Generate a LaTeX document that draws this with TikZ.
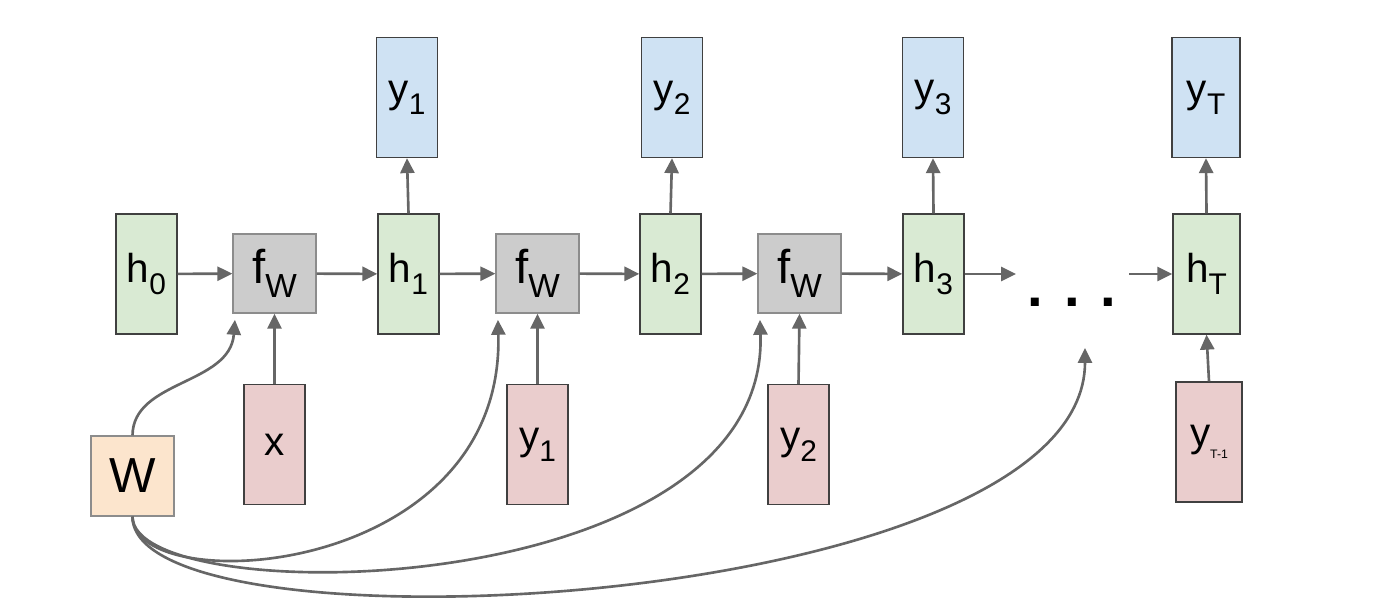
\documentclass[tikz,border=0pt]{standalone}
\usepackage{fontspec}
\setmainfont{Liberation Sans}
\usetikzlibrary{arrows.meta}

\definecolor{hidgreen}{HTML}{D9EAD3}
\definecolor{outblue}{HTML}{CFE2F3}
\definecolor{inred}{HTML}{EACDCD}
\definecolor{fgray}{HTML}{CCCCCC}
\definecolor{wpeach}{HTML}{FCE5CD}
\definecolor{linegray}{HTML}{666666}

\newcommand\lowsub[2][17]{\raisebox{-0.3em}{\fontsize{#1}{#1}\selectfont #2}}

\tikzset{
    cell/.style={draw=black!75, line width=0.8pt, minimum width=1.22cm, minimum height=2.4cm,
        inner sep=0pt, font=\fontsize{23}{23}\selectfont},
    hid/.style={cell, fill=hidgreen},
    outcell/.style={cell, fill=outblue},
    incell/.style={cell, fill=inred},
    fnode/.style={draw=black!45, line width=0.8pt, fill=fgray, minimum width=1.66cm,
        minimum height=1.58cm, inner sep=0pt, font=\fontsize{27}{27}\selectfont},
    link/.style={draw=linegray, line width=1.5pt, -{Triangle[length=8.5pt,width=8pt]}},
}

\begin{document}
\begin{tikzpicture}[x=0.02cm, y=-0.02cm]
    \useasboundingbox (0,0) rectangle (1388,604);

    \node[hid] (h0) at (146.5,274) {h\lowsub{0}};
    \node[hid] (h1) at (408.5,274) {h\lowsub{1}};
    \node[hid] (h2) at (670.5,274) {h\lowsub{2}};
    \node[hid] (h3) at (933.5,274) {h\lowsub{3}};
    \node[hid, minimum width=1.34cm] (hT) at (1206.5,274) {h\lowsub{T}};

    \foreach \i/\x in {1/274.5, 2/537.5, 3/799.5} {
        \node[fnode] (f\i) at (\x,273.5) {f\lowsub[19]{W}};
    }

    \node[outcell] (o1) at (407,97.5) {y\lowsub{1}};
    \node[outcell] (o2) at (672,97.5) {y\lowsub{2}};
    \node[outcell] (o3) at (933,97.5) {y\lowsub{3}};
    \node[outcell, minimum width=1.36cm] (oT) at (1206,97.5) {y\lowsub{T}};

    \node[incell] (x) at (274.5,444.5) {x};
    \node[incell] (i2) at (537.5,444.5) {y\lowsub{1}};
    \node[incell] (i3) at (798.5,444.5) {y\lowsub{2}};
    \node[incell, minimum width=1.32cm] (iT) at (1209,442) {y\lowsub[7]{T-1}};

    \node[draw=black!45, line width=0.8pt, fill=wpeach, minimum width=1.66cm, minimum height=1.6cm,
        inner sep=0pt, font=\fontsize{28}{28}\selectfont] (W) at (132.5,476) {W};

    \node[font=\bfseries\fontsize{32}{32}\selectfont, inner sep=0pt] (dots) at (1072,302) {. . .};
    \coordinate (gapL) at (1016,274);
    \coordinate (gapR) at (1129,274);
    \coordinate (gapB) at (1085,348);

    % recurrence
    \draw[link] (h0) -- (f1);
    \draw[link] (f1) -- (h1);
    \draw[link] (h1) -- (f2);
    \draw[link] (f2) -- (h2);
    \draw[link] (h2) -- (f3);
    \draw[link] (f3) -- (h3);
    \draw[link] (h3) -- (gapL);
    \draw[link] (gapR) -- (hT);

    % outputs
    \foreach \a/\b in {h1/o1, h2/o2, h3/o3, hT/oT} {
        \draw[link] (\a.north) -- (\b.south);
    }

    % inputs
    \draw[link] (x.north) -- (f1.south);
    \draw[link] (i2.north) -- (f2.south);
    \draw[link] (i3.north) -- (f3.south);
    \draw[link] (iT.north) -- (hT.south);

    % shared weights
    \draw[link] (W.north) .. controls (133,380) and (230,385) .. ([xshift=1.5pt,yshift=-3.5pt]f1.south west);
    \draw[link] (W.south) .. controls (133,600) and (505,580) .. ([xshift=1.5pt,yshift=-3.5pt]f2.south west);
    \draw[link] (W.south) .. controls (133,612) and (770,605) .. ([xshift=1.5pt,yshift=-3.5pt]f3.south west);
    \draw[link] (W.south) .. controls (133,660) and (1085,612) .. (gapB);
\end{tikzpicture}
\end{document}
